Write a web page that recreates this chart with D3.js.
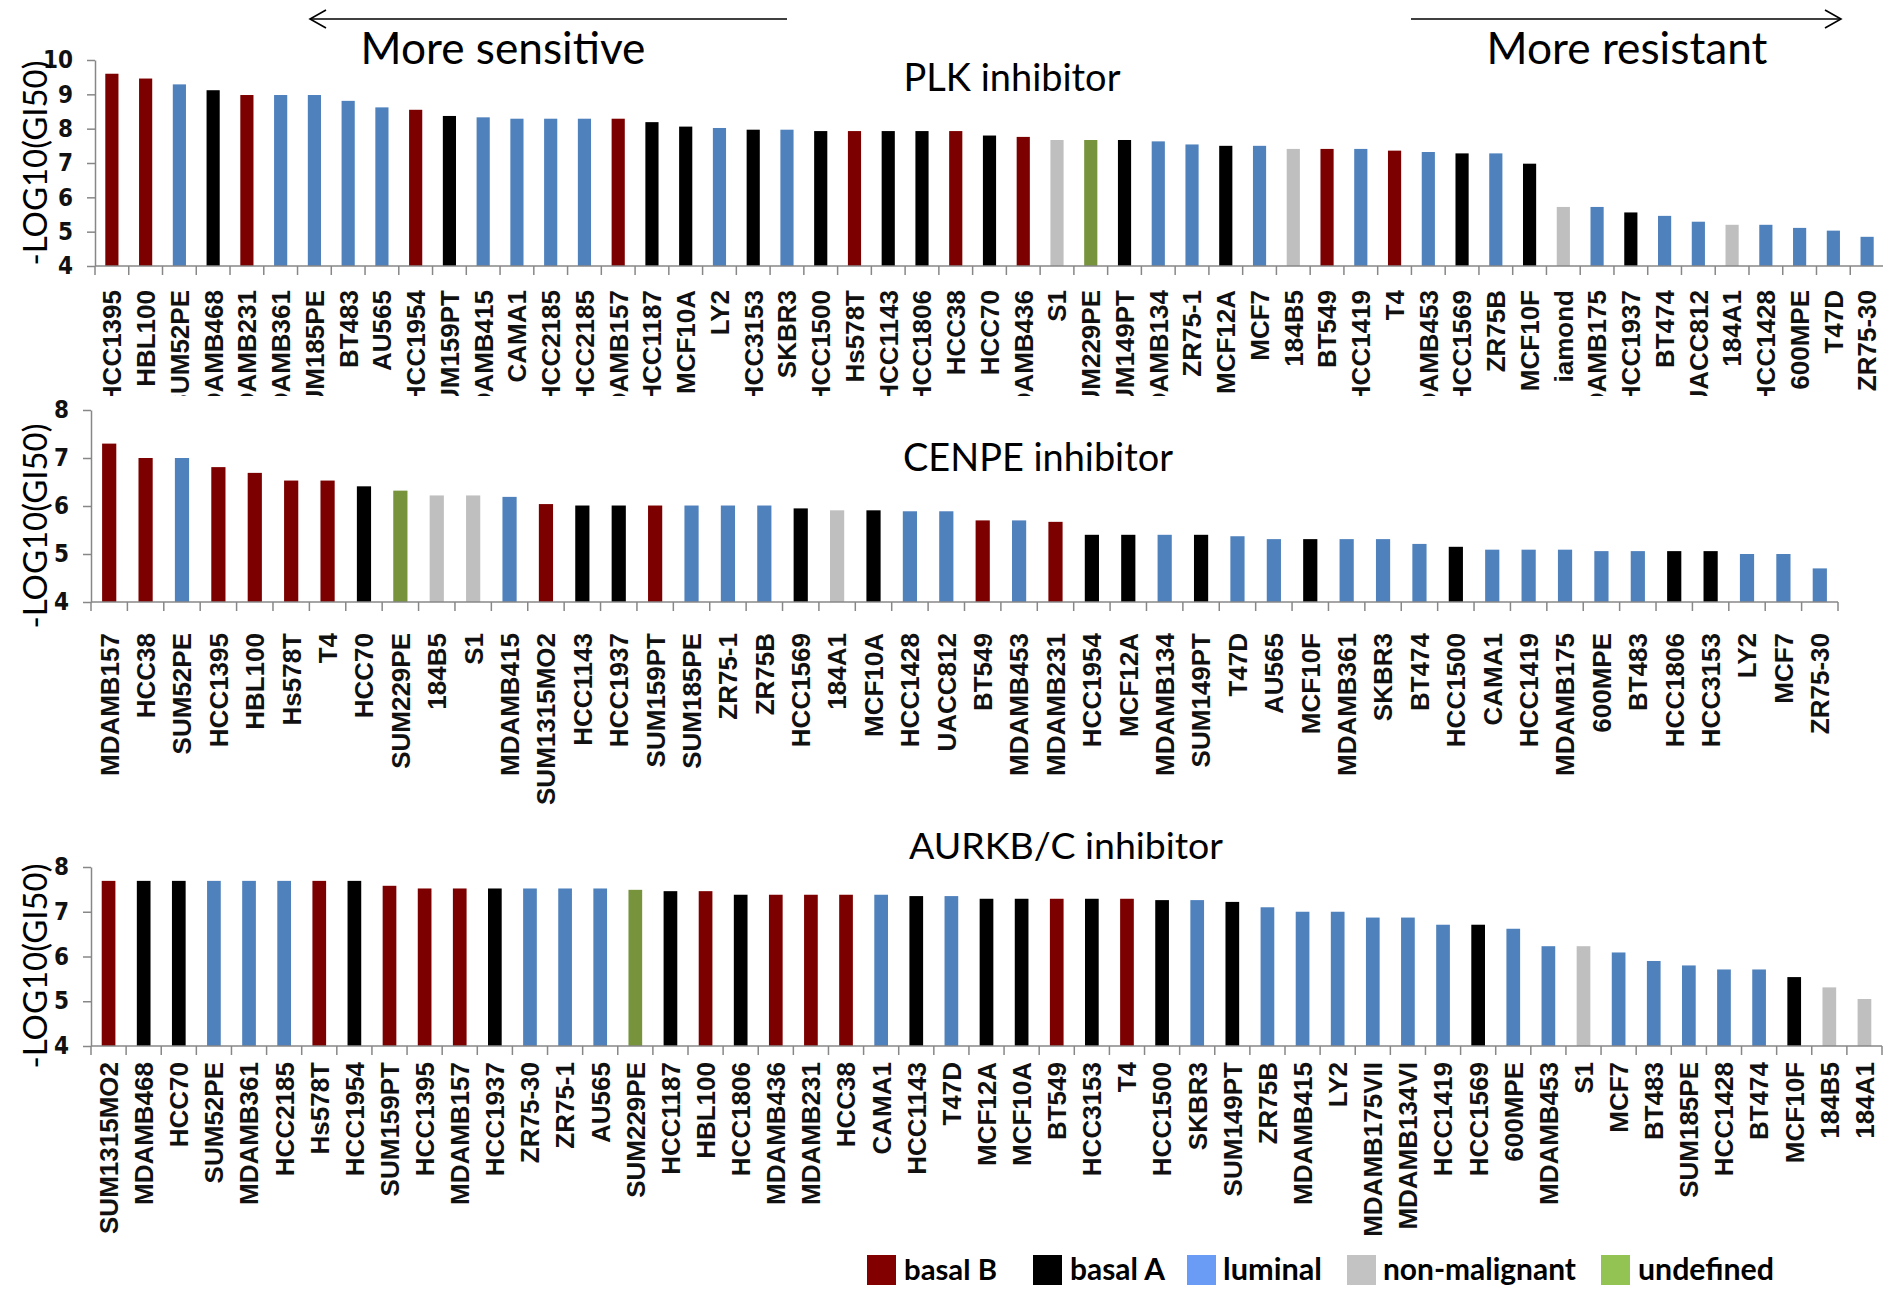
<!DOCTYPE html>
<html>
<head>
<meta charset="utf-8">
<script src="https://cdn.jsdelivr.net/npm/d3@7"></script>
<style>
  body { margin: 0; background: #fff; }
  svg { display: block; }
</style>
</head>
<body>
<svg id="chart" width="1883" height="1289"></svg>
<script>
// ---- PLK inhibitor: cell lines ordered from most sensitive to most resistant
const plkLines = ["HCC1395","HBL100","SUM52PE","MDAMB468","MDAMB231","MDAMB361","SUM185PE","BT483","AU565","HCC1954",
  "SUM159PT","MDAMB415","CAMA1","HCC2185","HCC2185","MDAMB157","HCC1187","MCF10A","LY2","HCC3153",
  "SKBR3","HCC1500","Hs578T","HCC1143","HCC1806","HCC38","HCC70","MDAMB436","S1","SUM229PE",
  "SUM149PT","MDAMB134","ZR75-1","MCF12A","MCF7","184B5","BT549","HCC1419","T4","MDAMB453",
  "HCC1569","ZR75B","MCF10F","iamond","MDAMB175","HCC1937","BT474","UACC812","184A1","HCC1428",
  "600MPE","T47D","ZR75-30"];
const plkValues = [9.60,9.46,9.29,9.12,8.98,8.98,8.98,8.81,8.62,8.55,
  8.37,8.33,8.29,8.29,8.29,8.29,8.19,8.06,8.02,7.97,
  7.97,7.93,7.93,7.93,7.93,7.93,7.80,7.76,7.67,7.67,
  7.67,7.63,7.54,7.50,7.50,7.41,7.41,7.41,7.36,7.32,
  7.28,7.28,6.98,5.72,5.72,5.56,5.46,5.29,5.20,5.20,
  5.11,5.03,4.85];
const plkTypes = ["B","B","L","A","B","L","L","L","L","B",
  "A","L","L","L","L","B","A","A","L","A",
  "L","A","B","A","A","B","A","B","N","U",
  "A","L","L","A","L","N","B","L","B","L",
  "A","L","A","N","L","A","L","L","N","L",
  "L","L","L"];
const plkTicks = [4,5,6,7,8,9,10];

// ---- CENPE inhibitor
const cenpeLines = ["MDAMB157","HCC38","SUM52PE","HCC1395","HBL100","Hs578T","T4","HCC70","SUM229PE","184B5",
  "S1","MDAMB415","SUM1315MO2","HCC1143","HCC1937","SUM159PT","SUM185PE","ZR75-1","ZR75B","HCC1569",
  "184A1","MCF10A","HCC1428","UACC812","BT549","MDAMB453","MDAMB231","HCC1954","MCF12A","MDAMB134",
  "SUM149PT","T47D","AU565","MCF10F","MDAMB361","SKBR3","BT474","HCC1500","CAMA1","HCC1419",
  "MDAMB175","600MPE","BT483","HCC1806","HCC3153","LY2","MCF7","ZR75-30"];
const cenpeValues = [7.30,7.00,7.00,6.81,6.69,6.53,6.53,6.41,6.32,6.22,
  6.22,6.19,6.04,6.01,6.01,6.01,6.01,6.01,6.01,5.95,
  5.91,5.91,5.89,5.89,5.70,5.70,5.67,5.40,5.40,5.40,
  5.40,5.37,5.31,5.31,5.31,5.31,5.21,5.15,5.09,5.09,
  5.09,5.06,5.06,5.06,5.06,5.00,5.00,4.70];
const cenpeTypes = ["B","B","L","B","B","B","B","A","U","N",
  "N","L","B","A","A","B","L","L","L","A",
  "N","A","L","L","B","L","B","A","A","L",
  "A","L","L","A","L","L","L","A","L","L",
  "L","L","L","A","A","L","L","L"];
const cenpeTicks = [4,5,6,7,8];

// ---- AURKB/C inhibitor
const aurkLines = ["SUM1315MO2","MDAMB468","HCC70","SUM52PE","MDAMB361","HCC2185","Hs578T","HCC1954","SUM159PT","HCC1395",
  "MDAMB157","HCC1937","ZR75-30","ZR75-1","AU565","SUM229PE","HCC1187","HBL100","HCC1806","MDAMB436",
  "MDAMB231","HCC38","CAMA1","HCC1143","T47D","MCF12A","MCF10A","BT549","HCC3153","T4",
  "HCC1500","SKBR3","SUM149PT","ZR75B","MDAMB415","LY2","MDAMB175VII","MDAMB134VI","HCC1419","HCC1569",
  "600MPE","MDAMB453","S1","MCF7","BT483","SUM185PE","HCC1428","BT474","MCF10F","184B5",
  "184A1"];
const aurkValues = [7.69,7.69,7.69,7.69,7.69,7.69,7.69,7.69,7.58,7.52,
  7.52,7.52,7.52,7.52,7.52,7.49,7.46,7.46,7.38,7.38,
  7.38,7.38,7.38,7.35,7.35,7.29,7.29,7.29,7.29,7.29,
  7.26,7.26,7.22,7.10,7.00,7.00,6.87,6.87,6.71,6.71,
  6.62,6.23,6.23,6.09,5.90,5.80,5.71,5.71,5.54,5.31,
  5.05];
const aurkTypes = ["B","A","A","L","L","L","B","A","B","B",
  "B","A","L","L","L","U","A","B","A","B",
  "B","B","L","A","L","A","A","B","A","B",
  "A","L","A","L","L","L","L","L","L","A",
  "L","L","N","L","L","L","L","L","A","N",
  "N"];
const aurkTicks = [4,5,6,7,8];

// ---- subtype legend
const subtypeKeys = ["B","A","L","N","U"];
const subtypeNames = ["basal B","basal A","luminal","non-malignant","undefined"];

// colours
const barColor = {B: "#7d0000", A: "#000000", L: "#4f81bd", N: "#bfbfbf", U: "#77933c"};
const keyColor = {B: "#820000", A: "#000000", L: "#6a9cf6", N: "#c3c3c3", U: "#92c353"};

const W = 1883, H = 1289;
const svg = d3.select("#chart");
const titleFont = "Lato, 'Open Sans', sans-serif";
const labelFont = "'Liberation Sans', Arial, sans-serif";
const tickFont = "'Liberation Sans Narrow', 'Arial Narrow', 'DejaVu Sans Condensed', sans-serif";

// scale a text element's font size so it spans the given width
function fitWidth(sel, width) {
  sel.attr("font-size", 100);
  const w = sel.node().getComputedTextLength();
  sel.attr("font-size", 100 * width / w);
  return sel;
}

const panelLayout = [
  {lines: plkLines, values: plkValues, types: plkTypes, ticks: plkTicks, title: "PLK inhibitor",
   x0: 95, x1: 1884, yTop: 60, yBase: 266, labelTop: 290, clipBottom: 396,
   titleX: 1012, titleY: 91, titleW: 217, axisTitleY: 163},
  {lines: cenpeLines, values: cenpeValues, types: cenpeTypes, ticks: cenpeTicks, title: "CENPE inhibitor",
   x0: 91, x1: 1838, yTop: 410, yBase: 602, labelTop: 633, clipBottom: null,
   titleX: 1038, titleY: 471, titleW: 270, axisTitleY: 526},
  {lines: aurkLines, values: aurkValues, types: aurkTypes, ticks: aurkTicks, title: "AURKB/C inhibitor",
   x0: 91, x1: 1882, yTop: 867, yBase: 1046, labelTop: 1062, clipBottom: null,
   titleX: 1066, titleY: 859, titleW: 314, axisTitleY: 966}
];

const axisGrey = "#878787";

panelLayout.forEach((p, pi) => {
  const n = p.lines.length;
  const x = d3.scaleBand().domain(d3.range(n)).range([p.x0, p.x1])
    .paddingInner(0.61).paddingOuter(0.305);
  const y = d3.scaleLinear().domain([p.ticks[0], p.ticks[p.ticks.length - 1]])
    .range([p.yBase, p.yTop]);
  const g = svg.append("g").attr("class", "panel-" + pi);

  // bars
  g.append("g").selectAll("rect").data(p.values).join("rect")
    .attr("x", (d, i) => x(i))
    .attr("width", x.bandwidth())
    .attr("y", d => y(d))
    .attr("height", d => y(p.ticks[0]) - y(d))
    .attr("fill", (d, i) => barColor[p.types[i]]);

  // value axis
  const yAxis = g.append("g").attr("transform", `translate(${p.x0},0)`)
    .call(d3.axisLeft(y).tickValues(p.ticks).tickFormat(d3.format("d"))
      .tickSize(8).tickSizeOuter(0).tickPadding(14));
  yAxis.select(".domain").attr("stroke", axisGrey).attr("stroke-width", 1.5);
  yAxis.selectAll(".tick line").attr("stroke", axisGrey).attr("stroke-width", 1.5);
  yAxis.selectAll(".tick text")
    .attr("font-family", tickFont).attr("font-weight", "bold")
    .attr("font-size", 24).attr("fill", "#111");

  // category axis with tick marks on the category boundaries
  g.append("line")
    .attr("x1", p.x0).attr("x2", Math.min(p.x1, W))
    .attr("y1", y(p.ticks[0])).attr("y2", y(p.ticks[0]))
    .attr("stroke", axisGrey).attr("stroke-width", 1.5);
  g.append("g").selectAll("line").data(d3.range(n + 1)).join("line")
    .attr("x1", k => p.x0 + k * x.step()).attr("x2", k => p.x0 + k * x.step())
    .attr("y1", y(p.ticks[0])).attr("y2", y(p.ticks[0]) + 9)
    .attr("stroke", axisGrey).attr("stroke-width", 1.5);

  // rotated cell-line names
  const lab = g.append("g");
  if (p.clipBottom) {
    svg.append("clipPath").attr("id", "clip-" + pi)
      .append("rect").attr("x", 0).attr("y", 0).attr("width", W).attr("height", p.clipBottom);
    lab.attr("clip-path", `url(#clip-${pi})`);
  }
  lab.selectAll("text").data(p.lines).join("text")
    .attr("transform", (d, i) => `translate(${x(i) + x.bandwidth() / 2},${p.labelTop}) rotate(-90)`)
    .attr("text-anchor", "end")
    .attr("dy", "0.36em")
    .attr("font-family", labelFont).attr("font-weight", "bold")
    .attr("font-size", 26).attr("fill", "#111")
    .text(d => d);

  // panel title
  fitWidth(g.append("text")
    .attr("x", p.titleX).attr("y", p.titleY).attr("text-anchor", "middle")
    .attr("font-family", titleFont).attr("fill", "#000")
    .text(p.title), p.titleW);

  // value axis title
  fitWidth(g.append("text")
    .attr("transform", `translate(34,${p.axisTitleY}) rotate(-90)`)
    .attr("text-anchor", "middle").attr("dominant-baseline", "central")
    .attr("font-family", titleFont).attr("fill", "#000")
    .text("-LOG10(GI50)"), 205);
});

// sensitivity arrows
const arrows = [
  {x1: 310, x2: 787, head: 310, dir: -1, text: "More sensitive", tx: 503, tw: 285},
  {x1: 1411, x2: 1841, head: 1841, dir: 1, text: "More resistant", tx: 1627, tw: 281}
];
const ag = svg.append("g");
arrows.forEach(a => {
  ag.append("line").attr("x1", a.x1).attr("x2", a.x2).attr("y1", 19).attr("y2", 19)
    .attr("stroke", "#000").attr("stroke-width", 1.6);
  ag.append("path")
    .attr("d", `M${a.head - a.dir * 16},10 L${a.head},19 L${a.head - a.dir * 16},28`)
    .attr("fill", "none").attr("stroke", "#000").attr("stroke-width", 1.6);
  fitWidth(ag.append("text").attr("x", a.tx).attr("y", 64).attr("text-anchor", "middle")
    .attr("font-family", titleFont).attr("fill", "#000").text(a.text), a.tw);
});

// legend
const legendPos = [
  {sx: 867, tx: 904, tw: 93},
  {sx: 1033, tx: 1070, tw: 95},
  {sx: 1187, tx: 1223, tw: 99},
  {sx: 1347, tx: 1383, tw: 193},
  {sx: 1601, tx: 1638, tw: 136}
];
const lg = svg.append("g");
subtypeKeys.forEach((k, i) => {
  const pos = legendPos[i];
  lg.append("rect").attr("x", pos.sx).attr("y", 1255).attr("width", 29).attr("height", 30)
    .attr("fill", keyColor[k]);
  fitWidth(lg.append("text").attr("x", pos.tx).attr("y", 1280)
    .attr("font-family", titleFont).attr("font-weight", "bold").attr("fill", "#000")
    .text(subtypeNames[i]), pos.tw);
});
</script>
</body>
</html>
